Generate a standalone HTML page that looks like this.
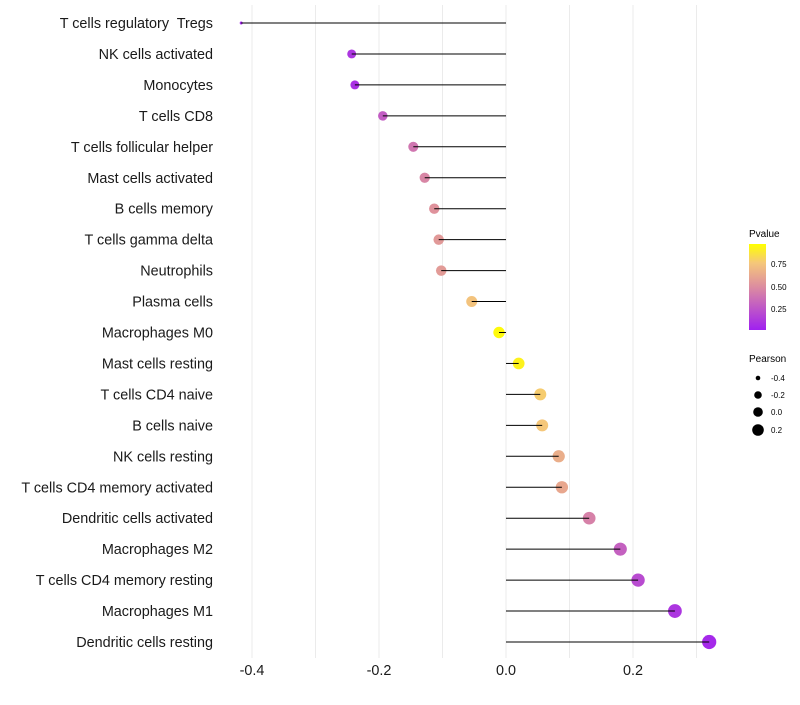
<!DOCTYPE html>
<html><head><meta charset="utf-8"><style>
body{margin:0;background:#fff;font-family:"Liberation Sans",Arial,sans-serif}
#labels text{white-space:pre}
</style></head><body>
<svg id="c" width="800" height="700" xmlns="http://www.w3.org/2000/svg" font-family="Liberation Sans, Arial, sans-serif">
<defs><linearGradient id="pg" x1="0" y1="1" x2="0" y2="0">
<stop offset="0" stop-color="#a020f0"/><stop offset="0.5" stop-color="#dc8ca0"/><stop offset="0.78" stop-color="#f5c77a"/><stop offset="1" stop-color="#ffff00"/></linearGradient></defs>
<g id="grid"></g><g id="dots"></g><g id="marks"></g><g id="labels"></g><g id="xt"></g>
<g>
<text x="749" y="237" font-size="10">Pvalue</text>
<rect x="749" y="244" width="17" height="86" fill="url(#pg)"/>
<text x="771" y="267" font-size="8">0.75</text>
<text x="771" y="290" font-size="8">0.50</text>
<text x="771" y="312" font-size="8">0.25</text>
</g>
<g>
<text x="749" y="362" font-size="10">Pearson</text>
<circle cx="758" cy="378" r="2.3" fill="#000"/><text x="771" y="381" font-size="8">-0.4</text>
<circle cx="758" cy="395" r="3.8" fill="#000"/><text x="771" y="398" font-size="8">-0.2</text>
<circle cx="758" cy="412" r="4.8" fill="#000"/><text x="771" y="415" font-size="8">0.0</text>
<circle cx="758" cy="430" r="5.8" fill="#000"/><text x="771" y="433" font-size="8">0.2</text>
</g>
</svg>
<script>
const categories=["T cells regulatory  Tregs","NK cells activated","Monocytes","T cells CD8","T cells follicular helper","Mast cells activated","B cells memory","T cells gamma delta","Neutrophils","Plasma cells","Macrophages M0","Mast cells resting","T cells CD4 naive","B cells naive","NK cells resting","T cells CD4 memory activated","Dendritic cells activated","Macrophages M2","T cells CD4 memory resting","Macrophages M1","Dendritic cells resting"];
const pearson=[-0.417,-0.243,-0.238,-0.194,-0.146,-0.128,-0.113,-0.106,-0.102,-0.054,-0.011,0.020,0.054,0.057,0.083,0.088,0.131,0.180,0.208,0.266,0.320];
const pvalues=[0.03,0.1,0.08,0.28,0.4,0.47,0.53,0.56,0.57,0.76,0.98,0.95,0.8,0.78,0.66,0.63,0.45,0.3,0.2,0.1,0.04];
const ticks=[-0.4,-0.2,0.0,0.2];
const tickLabels=["-0.4","-0.2","0.0","0.2"];
const NS="http://www.w3.org/2000/svg";
const X=v=>506+v*635;
const Y=i=>23+i*30.95;
function col(p){
 const st=[[0,[160,32,240]],[0.5,[220,140,160]],[0.78,[245,199,122]],[1,[255,255,0]]];
 for(let k=1;k<st.length;k++){if(p<=st[k][0]){const a=st[k-1],b=st[k],t=(p-a[0])/(b[0]-a[0]);return 'rgb('+a[1].map((c,j)=>Math.round(c+(b[1][j]-c)*t)).join(',')+')';}}
 return 'rgb(255,255,0)';
}
function rad(v){const a=20+54*(v+0.243);return v<-0.3?Math.sqrt(Math.max(2.25,a-25*(-0.3-v)*4)):Math.sqrt(a);}
function mk(t,a,p){const e=document.createElementNS(NS,t);for(const k in a)e.setAttribute(k,a[k]);p.appendChild(e);return e;}
const g=document.getElementById('grid'),d=document.getElementById('dots'),m=document.getElementById('marks'),l=document.getElementById('labels'),xt=document.getElementById('xt');
for(let v=-0.4;v<=0.31;v+=0.1){const ln=mk('line',{x1:X(v),x2:X(v),y1:5,y2:658,stroke:'#ebebeb','stroke-width':1},g);

}
categories.forEach((c,i)=>{
 const y=Y(i);
 const ci=mk('circle',{cx:X(pearson[i]),cy:y,r:rad(pearson[i]),fill:col(pvalues[i])},d);
 
 
 const ln=mk('line',{x1:X(0),x2:X(pearson[i]),y1:y,y2:y,stroke:'#000','stroke-width':1},m);
 
 
 const t=mk('text',{x:213,y:y+5,'text-anchor':'end','font-size':14.4,fill:'#1a1a1a'},l);
 t.textContent=c;
 
 
});
ticks.forEach((v,i)=>{const t=mk('text',{x:X(v),y:675,'text-anchor':'middle','font-size':14.4,fill:'#1a1a1a'},xt);
t.textContent=tickLabels[i];

});
</script>
</body></html>
